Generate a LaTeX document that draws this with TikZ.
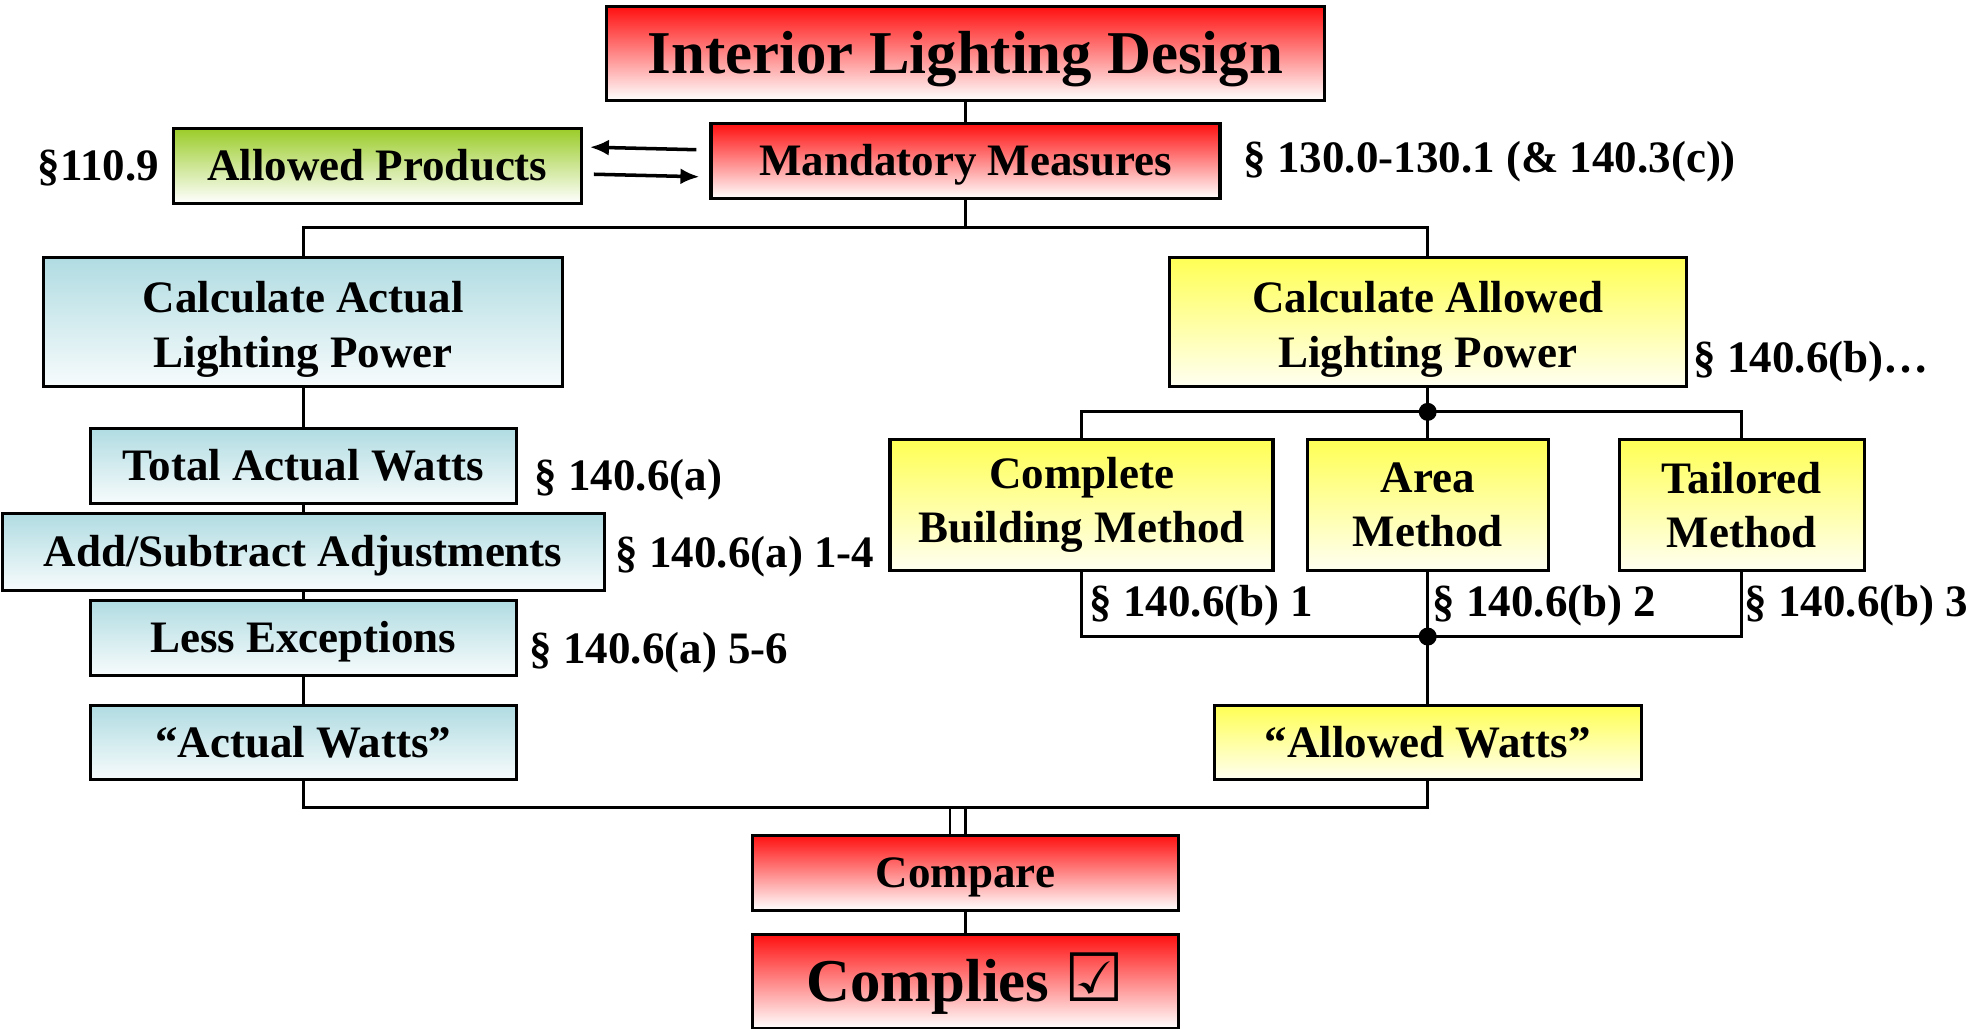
\documentclass[tikz,border=0pt]{standalone}
\usepackage{fontspec}
\setmainfont{Liberation Serif}
\newfontfamily\symbolfont{DejaVu Sans}
\usetikzlibrary{positioning, arrows.meta}
\definecolor{boxred}{RGB}{255,16,16}
\definecolor{boxgreen}{RGB}{154,204,40}
\definecolor{boxblue}{RGB}{176,220,226}
\definecolor{boxyellow}{RGB}{255,255,85}
\newcommand{\topstrut}{\rule{0pt}{13pt}}

\begin{document}
\begin{tikzpicture}[
    box/.style={draw, rectangle, line width=0.9pt, align=center, inner sep=2pt, font=\fontsize{12.8}{15.4}\selectfont\bfseries},
    oneline/.style={text height=9.2pt, text depth=0.9pt},
    bigtext/.style={font=\fontsize{17.3}{20.8}\selectfont\bfseries, text height=12.5pt, text depth=1.2pt},
    redshade/.style={top color=boxred, bottom color=white},
    greenshade/.style={top color=boxgreen, bottom color=white},
    blueshade/.style={top color=boxblue, bottom color=boxblue!10!white},
    yellowshade/.style={top color=boxyellow, bottom color=boxyellow!8!white},
    ref/.style={inner sep=0pt, oneline, font=\fontsize{12.8}{15.4}\selectfont\bfseries},
    link/.style={line width=0.8pt},
    arrow/.style={-{Latex[length=0.19cm, width=0.16cm]}, line width=1pt}
]
\useasboundingbox (0,0) rectangle (19.69,10.29);

% top of the chart
\node[box, redshade, bigtext, minimum width=7.18cm, minimum height=0.94cm] (title) at (9.655,9.756) {Interior Lighting Design};
\node[box, oneline, redshade, minimum width=5.09cm, minimum height=0.75cm, below=0.2cm of title] (mandatory) {Mandatory Measures};
\node[ref, anchor=west] (mandatoryref) at (12.43,8.71) {§ 130.0-130.1 (\& 140.3(c))};
\node[box, oneline, greenshade, minimum width=4.08cm, minimum height=0.75cm] (products) at (3.773,8.633) {Allowed Products};
\node[ref, left=0.12cm of products] (productsref) {§110.9};

% actual power
\node[box, blueshade, minimum width=5.19cm, minimum height=1.29cm] (calcact) at (3.032,7.069) {\topstrut Calculate Actual\\Lighting Power};
\node[box, oneline, blueshade, minimum width=4.26cm, minimum height=0.75cm] (total) at (3.032,5.631) {Total Actual Watts};
\node[ref, anchor=west] (totalref) at (5.34,5.53) {§ 140.6(a)};
\node[box, oneline, blueshade, minimum width=6.02cm, minimum height=0.77cm] (adjust) at (3.032,4.771) {Add/Subtract Adjustments};
\node[ref, anchor=west] (adjustref) at (6.15,4.765) {§ 140.6(a) 1-4};
\node[box, oneline, blueshade, minimum width=4.26cm, minimum height=0.75cm] (less) at (3.032,3.911) {Less Exceptions};
\node[ref, anchor=west] (lessref) at (5.29,3.80) {§ 140.6(a) 5-6};
\node[box, oneline, blueshade, minimum width=4.26cm, minimum height=0.74cm] (actual) at (3.032,2.862) {“Actual Watts”};

% allowed power
\node[box, yellowshade, minimum width=5.17cm, minimum height=1.29cm] (calcall) at (14.277,7.069) {\topstrut Calculate Allowed\\Lighting Power};
\node[ref, anchor=west] (calcallref) at (16.93,6.71) {§ 140.6(b)…};
\node[box, yellowshade, minimum width=2.41cm, minimum height=1.31cm, below=0.5cm of calcall] (area) {Area\\Method};
\node[box, yellowshade, minimum width=3.83cm, minimum height=1.31cm, left=0.31cm of area] (complete) {Complete\\Building Method};
\node[box, yellowshade, minimum width=2.45cm, minimum height=1.31cm, right=0.68cm of area] (tailored) {Tailored\\Method};
\node[ref, anchor=west] (completeref) at (10.89,4.27) {§ 140.6(b) 1};
\node[ref, anchor=west] (arearef) at (14.32,4.27) {§ 140.6(b) 2};
\node[ref, anchor=west] (tailoredref) at (17.44,4.27) {§ 140.6(b) 3};
\node[box, oneline, yellowshade, minimum width=4.27cm, minimum height=0.74cm] (allowed) at (actual -| calcall) {“Allowed Watts”};

% result
\node[box, redshade, oneline, minimum width=4.26cm, minimum height=0.75cm] (compare) at (9.655,1.563) {Compare};
\node[box, redshade, bigtext, minimum width=4.26cm, minimum height=0.94cm, below=0.21cm of compare] (complies) {Complies {\symbolfont\fontsize{19}{20}\selectfont ☑}};

\coordinate (topbus) at (9.655,8.017);
\coordinate (split) at (14.277,6.171);
\coordinate (join) at (14.277,3.924);
\coordinate (lowbus) at (9.655,2.216);

\draw[link] (title) -- (mandatory);
\draw[link] (mandatory) -- (topbus);
\draw[link] (calcact) |- (topbus) -| (calcall);
\draw[link] (calcact) -- (total);
\draw[link] (total) -- (adjust);
\draw[link] (adjust) -- (less);
\draw[link] (less) -- (actual);
\draw[link] (calcall) -- (split);
\draw[link] (complete) |- (split) -| (tailored);
\draw[link] (split) -- (area);
\draw[link] (complete) |- (join) -| (tailored);
\draw[link] (area) -- (allowed);
\draw[link] (actual) |- (lowbus) -| (allowed);
\draw[link] (lowbus) -- (compare);
\draw[link] ([xshift=-0.155cm]lowbus) -- ([xshift=-0.155cm]compare.north);
\draw[link] (compare) -- (complies);
\fill (split) circle (0.09);
\fill (join) circle (0.09);

\draw[arrow, shorten <=0.13cm, shorten >=0.07cm] ([yshift=0.11cm]mandatory.west) -- ([yshift=0.187cm]products.east);
\draw[arrow, shorten <=0.11cm, shorten >=0.1cm] ([yshift=-0.083cm]products.east) -- ([yshift=-0.16cm]mandatory.west);

\end{tikzpicture}
\end{document}
